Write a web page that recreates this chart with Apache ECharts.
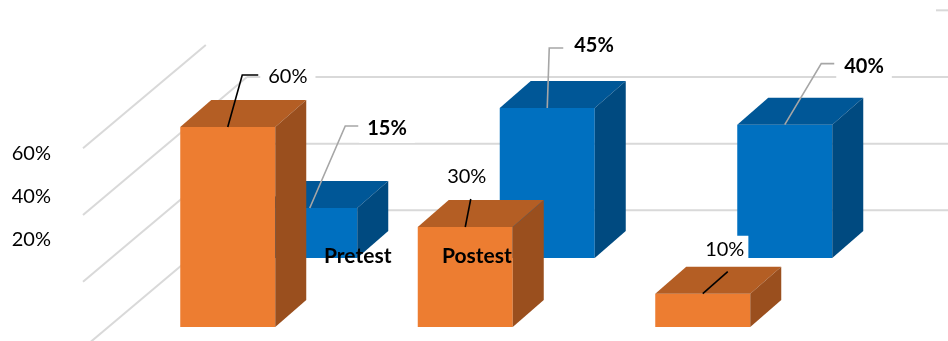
<!DOCTYPE html>
<html>
<head>
<meta charset="utf-8">
<script src="https://cdn.jsdelivr.net/npm/echarts@6/dist/echarts.min.js"></script>
<style>
html,body{margin:0;padding:0;background:#fff;}
#chart{width:948px;height:341px;}
</style>
</head>
<body>
<div id="chart"></div>
<script>
// ---- data ----
const categories = ['G1', 'G2', 'G3'];
const seriesNames = ['Pretest', 'Postest'];
const frontValues = [60, 30, 10];   // orange row
const backValues = [15, 45, 40];    // blue row
const yTickLabels = [20, 40, 60];
const wallTicks = [20, 40, 60, 80];

// ---- layout / styling (not data) ----
const FONT = 'Lato, "Open Sans", sans-serif';
const ROWS = ['back', 'front'];          // drawing order: back row first
const depth = [31, -27];
const rowOffset = { front: [0, 0], back: [82, -69] };
const colors = {
  front: { face: '#ED7D31', top: '#B45E24', side: '#9A4F1E', leader: '#000000', weight: 'normal' },
  back:  { face: '#0070C0', top: '#005797', side: '#004A80', leader: '#A6A6A6', weight: 'bold' }
};
const labelLayout = {
  front: [
    { line: [[14.5, -52], [30.5, -52]], text: [40.5, -50], align: 'left' },
    { line: [[5.5, -28]], text: [1.5, -50], align: 'center' },
    { line: [[25, -22]], text: [22, -44], align: 'center' }
  ],
  back: [
    { line: [[35.5, -82], [48.5, -82]], text: [57.5, -79], align: 'left' },
    { line: [[2, -60], [16, -60]], text: [27, -62], align: 'left' },
    { line: [[36.5, -61], [49.5, -61]], text: [59.5, -58], align: 'left' }
  ]
};
const wall = { drop: 50, cornerX: 247, leftX: 83, slope: 138 / 164, clipTop: 45, clipRightX: 936 };

// combined bar data: [categoryIndex, value, rowIndex], back row first
const barData = backValues.map((v, i) => [i, v, 0]).concat(frontValues.map((v, i) => [i, v, 1]));

function barRenderer(params, api) {
  const row = ROWS[api.value(2)];
  const c = colors[row];
  const off = rowOffset[row];
  const z2 = api.value(2) * 10 + 1;
  const v = api.value(1);
  const top = api.coord([api.value(0), v]);
  const base = api.coord([api.value(0), 0]);
  const bw = api.size([1, 0])[0] * 0.4;
  const x0 = top[0] - bw / 2 + off[0];
  const y0 = top[1] + off[1];
  const yb = base[1] + off[1];
  const dx = depth[0], dy = depth[1];
  return {
    type: 'group',
    children: [
      { type: 'rect', z2: z2, shape: { x: x0, y: y0, width: bw, height: yb - y0 }, style: { fill: c.face } },
      { type: 'polygon', z2: z2, shape: { points: [[x0, y0], [x0 + dx, y0 + dy], [x0 + bw + dx, y0 + dy], [x0 + bw, y0]] }, style: { fill: c.top } },
      { type: 'polygon', z2: z2, shape: { points: [[x0 + bw, y0], [x0 + bw + dx, y0 + dy], [x0 + bw + dx, yb + dy], [x0 + bw, yb]] }, style: { fill: c.side } }
    ]
  };
}

function labelRenderer(params, api) {
  const row = ROWS[api.value(2)];
  const c = colors[row];
  const off = rowOffset[row];
  const v = api.value(1);
  const top = api.coord([api.value(0), v]);
  const ax = top[0] + off[0];
  const ay = top[1] + off[1];
  const L = labelLayout[row][api.value(0)];
  const pts = [[ax, ay]].concat(L.line.map(p => [ax + p[0], ay + p[1]]));
  const padL = L.align === 'left' ? 8 : 4;
  return {
    type: 'group',
    children: [
      { type: 'polyline', z2: 50, shape: { points: pts }, style: { stroke: c.leader, lineWidth: 1.6, fill: null } },
      {
        type: 'text', z2: 60,
        style: {
          text: v + '%',
          x: ax + L.text[0] - (L.align === 'left' ? padL : 0),
          y: ay + L.text[1],
          align: L.align,
          verticalAlign: 'middle',
          font: c.weight + ' 20px ' + FONT,
          fill: '#000',
          backgroundColor: '#fff',
          padding: [4, padL, 4, padL]
        }
      }
    ]
  };
}

function wallRenderer(params, api) {
  const g = api.value(1);
  const yb = api.coord([0, g])[1] - wall.drop;
  const children = [];
  const style = { stroke: '#D9D9D9', lineWidth: 2 };
  const leftY = yb + (wall.cornerX - wall.leftX) * wall.slope;
  if (yb >= wall.clipTop) {
    children.push({ type: 'line', shape: { x1: wall.cornerX, y1: yb, x2: 948, y2: yb }, style });
    children.push({ type: 'line', shape: { x1: wall.cornerX, y1: yb, x2: wall.leftX, y2: leftY }, style });
  } else {
    children.push({ type: 'line', shape: { x1: wall.clipRightX, y1: yb, x2: 948, y2: yb }, style });
    const cx = wall.cornerX - (wall.clipTop - yb) / wall.slope;
    children.push({ type: 'line', shape: { x1: cx, y1: wall.clipTop, x2: wall.leftX, y2: leftY }, style });
  }
  return { type: 'group', children };
}

const chart = echarts.init(document.getElementById('chart'));
chart.setOption({
  animation: false,
  backgroundColor: '#fff',
  grid: { left: 109, right: 126.5, top: 27, bottom: 14, containLabel: false },
  xAxis: { type: 'category', data: categories, show: false, boundaryGap: true },
  yAxis: [
    { type: 'value', min: 0, max: 90, show: false },
    {
      type: 'value', min: -20, max: 118, interval: 20, position: 'left',
      axisLine: { show: false }, axisTick: { show: false }, splitLine: { show: false },
      axisLabel: {
        margin: 58, align: 'right', fontSize: 20, fontFamily: FONT, color: '#000',
        formatter: v => (yTickLabels.indexOf(v) >= 0 ? v + '%' : ''),
        showMinLabel: true, showMaxLabel: false
      }
    }
  ],
  series: [
    { type: 'custom', name: 'wall', renderItem: wallRenderer, data: wallTicks.map(g => [0, g]), clip: false, z: 1, silent: true },
    { type: 'custom', name: 'bars', renderItem: barRenderer, data: barData, clip: false, z: 2 },
    { type: 'custom', name: 'labels', renderItem: labelRenderer, data: barData, clip: false, z: 3 }
  ],
  graphic: [
    { type: 'text', left: 324, top: 246, z: 10, style: { text: seriesNames[0], font: 'bold 21px ' + FONT, fill: '#000' } },
    { type: 'text', left: 442, top: 246, z: 10, style: { text: seriesNames[1], font: 'bold 21px ' + FONT, fill: '#000' } }
  ]
});
</script>
</body>
</html>
